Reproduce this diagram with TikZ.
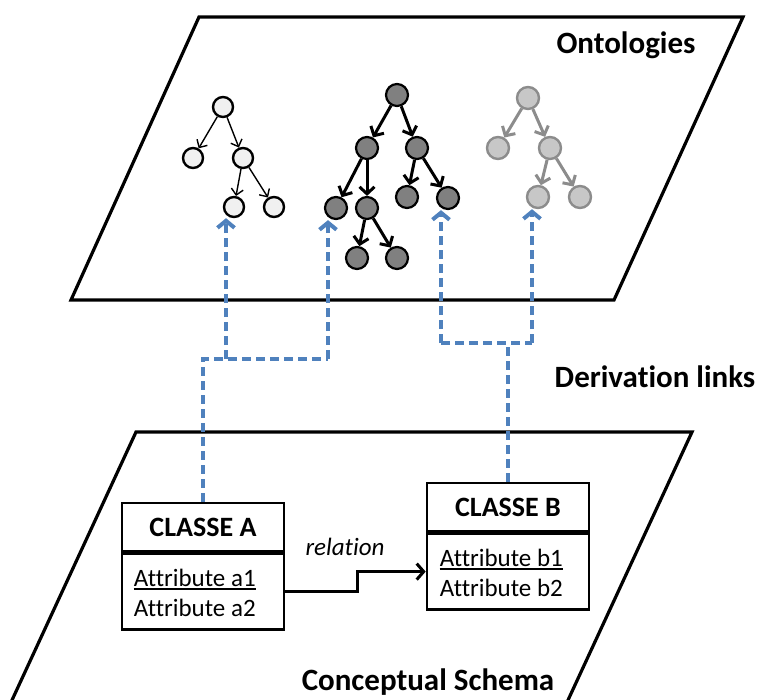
\documentclass[tikz,border=0pt]{standalone}
\usepackage{fontspec}
\setmainfont{Carlito}[Ligatures=NoCommon]
\usetikzlibrary{arrows.meta,positioning,calc}
\definecolor{linkblue}{RGB}{79,129,189}
\definecolor{treegray}{RGB}{140,140,140}

\begin{document}
\begin{tikzpicture}[x=1pt, y=-1pt,
    plane/.style={draw, line width=3.2pt, line join=miter},
    title/.style={font=\fontsize{31}{36}\selectfont\bfseries, inner sep=0pt, anchor=base},
    clshead/.style={draw, line width=2.6pt, minimum width=162pt, minimum height=48pt, inner sep=0pt, font=\fontsize{28}{32}\selectfont\bfseries},
    clsbody/.style={draw, line width=2.6pt, minimum width=162pt, minimum height=76pt, inner sep=0pt},
    attr/.style={font=\fontsize{25}{30}\selectfont, inner sep=0pt, anchor=west},
    wnode/.style={circle, draw, line width=2.4pt, fill=black!6, minimum size=20pt, inner sep=0pt},
    dnode/.style={circle, draw, line width=2.2pt, fill=black!50, minimum size=22pt, inner sep=0pt},
    gnode/.style={circle, draw=treegray, line width=2.4pt, fill=black!22, minimum size=22pt, inner sep=0pt},
    wedge/.style={line width=1.4pt, -{Straight Barb[length=6pt,width=12pt]}},
    dedge/.style={line width=3pt, -{Straight Barb[length=7pt,width=15pt]}},
    gedge/.style={dedge, treegray},
    link/.style={linkblue, line width=4pt, dash pattern=on 9pt off 5pt, -{Straight Barb[length=7pt,width=17pt]}},
    relarrow/.style={line width=3pt, -{Straight Barb[length=7pt,width=16pt]}}
]
\useasboundingbox (0,0) rectangle (760,699);
\clip (0,0) rectangle (760,699);

% planes
\coordinate (o1) at (199,17);
\coordinate (o2) at (743,17);
\coordinate (o3) at (614,300);
\coordinate (o4) at (71,300);
\draw[plane] (o1) -- (o2) -- (o3) -- (o4) -- cycle;
\coordinate (c1) at (136,432);
\coordinate (c2) at (692,432);
\coordinate (c3) at (556.5,725);
\coordinate (c4) at (0.5,725);
\draw[plane] (c1) -- (c2) -- (c3) -- (c4) -- cycle;

\node[title] (ont) at (626,53) {Ontologies};
\node[title] (der) at (655,387) {Derivation links};
\node[title] (csch) at (428,690) {Conceptual Schema};

% white ontology
\node[wnode] (w0) at (223,107) {};
\node[wnode] (w11) at (193,158) {};
\node[wnode] (w12) at (243,158) {};
\node[wnode] (w21) at (234,207) {};
\node[wnode] (w22) at (274,207) {};
\draw[wedge] (w0) -- (w11);
\draw[wedge] (w0) -- (w12);
\draw[wedge] (w12) -- (w21);
\draw[wedge] (w12) -- (w22);

% dark ontology
\node[dnode] (d0) at (397,95) {};
\node[dnode] (d11) at (367,148) {};
\node[dnode] (d12) at (417,148) {};
\node[dnode] (d21) at (336,208) {};
\node[dnode] (d22) at (367,208) {};
\node[dnode] (d23) at (407,197) {};
\node[dnode] (d24) at (448,198) {};
\node[dnode] (d31) at (357,258) {};
\node[dnode] (d32) at (397,258) {};
\draw[dedge] (d0) -- (d11);
\draw[dedge] (d0) -- (d12);
\draw[dedge] (d11) -- (d21);
\draw[dedge] (d11) -- (d22);
\draw[dedge] (d12) -- (d23);
\draw[dedge] (d12) -- (d24);
\draw[dedge] (d22) -- (d31);
\draw[dedge] (d22) -- (d32);

% gray ontology
\node[gnode] (g0) at (528,98) {};
\node[gnode] (g11) at (498,148) {};
\node[gnode] (g12) at (550,148) {};
\node[gnode] (g21) at (538,197) {};
\node[gnode] (g22) at (580,197) {};
\draw[gedge] (g0) -- (g11);
\draw[gedge] (g0) -- (g12);
\draw[gedge] (g12) -- (g21);
\draw[gedge] (g12) -- (g22);

% classes
\node[clshead] (ca) at (203,527) {CLASSE A};
\node[clsbody, below=0pt of ca] (cab) {};
\node[attr] (a1) at ($(cab.north west)+(13,26)$) {Attribute a1};
\node[attr] (a2) at ($(a1.west)+(0,30)$) {Attribute a2};
\draw[line width=1.8pt] ([yshift=-2pt]a1.south west) -- ([yshift=-2pt]a1.south east);

\node[clshead] (cb) at (508,507) {CLASSE B};
\node[clsbody, below=0pt of cb] (cbb) {};
\node[attr] (b1) at ($(cbb.north west)+(14,26)$) {Attribute b1};
\node[attr] (b2) at ($(b1.west)+(0,30)$) {Attribute b2};
\draw[line width=1.8pt] ([yshift=-2pt]b1.south west) -- ([yshift=-2pt]b1.south east);

\draw[relarrow] (cab.east) -- ++(72,0) |- (cbb.west);
\node[font=\fontsize{25}{30}\selectfont\itshape, inner sep=0pt] (rel) at (345,547) {relation};

% derivation links
\coordinate (la) at (203,359);
\coordinate (lb) at (226,359);
\coordinate (lc) at (328,359);
\draw[link, -] (ca.north) -- (la) -- (lc);
\draw[link] (lb) -- (lb |- w21.south);
\draw[link] (lc) -- (lc |- d21.south);

\coordinate (ra) at (441,343);
\coordinate (rb) at (508,343);
\coordinate (rc) at (532,343);
\draw[link, -] (cb.north) -- (rb);
\draw[link, -] (ra) -- (rc);
\draw[link] (ra) -- (ra |- d24.south);
\draw[link] (rc) -- (rc |- g21.south);
\end{tikzpicture}
\end{document}
